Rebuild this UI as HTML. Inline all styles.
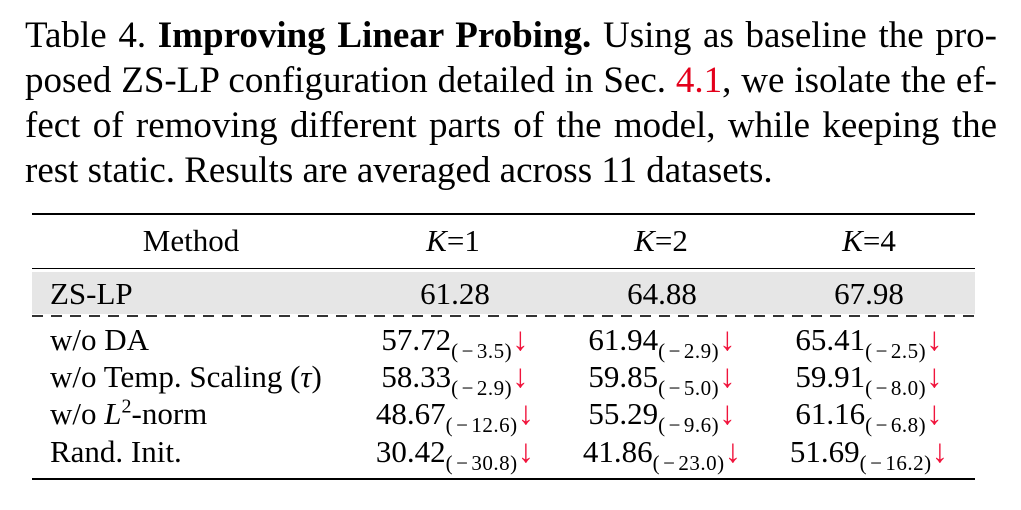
<!DOCTYPE html>
<html><head><meta charset="utf-8"><style>
body{margin:0;width:1021px;height:510px;background:#fff;position:relative;overflow:hidden;font-family:"Liberation Serif",serif;color:#000}
.cap{position:absolute;left:25px;width:972px;font-size:37px;line-height:36px;white-space:nowrap}
.j{text-align:justify;text-align-last:justify;white-space:normal}
.rule{position:absolute;left:32px;width:943px;background:#000}
.cell{position:absolute;font-size:31px;line-height:32px;white-space:nowrap}
.c{transform:translateX(-50%)}
sub{font-size:21px;vertical-align:-8px;line-height:0;letter-spacing:0.5px}
sub .m{margin:0 3px}
.ar{color:#f0143c;font-size:33px}
i{font-style:italic}
</style></head><body>
<div class="cap j" style="top:18px">Table 4. <b>Improving Linear Probing.</b> Using as baseline the pro-</div>
<div class="cap j" style="top:63px">posed ZS-LP configuration detailed in Sec. <span style="color:#e3001b">4.1</span>, we isolate the ef-</div>
<div class="cap j" style="top:108px">fect of removing different parts of the model, while keeping the</div>
<div class="cap" style="top:153px">rest static. Results are averaged across 11 datasets.</div>

<div class="rule" style="top:213px;height:2px"></div>
<div class="rule" style="top:268px;height:1px"></div>
<div class="rule" style="top:272px;height:42px;background:#e6e6e6"></div>
<div class="rule" style="top:315px;height:1.5px;background:repeating-linear-gradient(90deg,#333 0 11px,transparent 11px 19px)"></div>
<div class="rule" style="top:478px;height:2px"></div>

<div class="cell c" style="left:191px;top:225px">Method</div>
<div class="cell c" style="left:453px;top:225px"><i>K</i>=1</div>
<div class="cell c" style="left:661px;top:225px"><i>K</i>=2</div>
<div class="cell c" style="left:869px;top:225px"><i>K</i>=4</div>

<div class="cell" style="left:50px;top:278px">ZS-LP</div>
<div class="cell c" style="left:455px;top:278px">61.28</div>
<div class="cell c" style="left:662px;top:278px">64.88</div>
<div class="cell c" style="left:869px;top:278px">67.98</div>

<div class="cell" style="left:50px;top:324px">w/o DA</div>
<div class="cell c" style="left:455px;top:324px">57.72<sub>(<span class="m">−</span>3.5)</sub><span class="ar">↓</span></div>
<div class="cell c" style="left:662px;top:324px">61.94<sub>(<span class="m">−</span>2.9)</sub><span class="ar">↓</span></div>
<div class="cell c" style="left:869px;top:324px">65.41<sub>(<span class="m">−</span>2.5)</sub><span class="ar">↓</span></div>

<div class="cell" style="left:50px;top:361px">w/o Temp. Scaling (<i>τ</i>)</div>
<div class="cell c" style="left:455px;top:361px">58.33<sub>(<span class="m">−</span>2.9)</sub><span class="ar">↓</span></div>
<div class="cell c" style="left:662px;top:361px">59.85<sub>(<span class="m">−</span>5.0)</sub><span class="ar">↓</span></div>
<div class="cell c" style="left:869px;top:361px">59.91<sub>(<span class="m">−</span>8.0)</sub><span class="ar">↓</span></div>

<div class="cell" style="left:50px;top:398px">w/o <i>L</i><sup style="font-size:20px;line-height:0">2</sup>-norm</div>
<div class="cell c" style="left:455px;top:398px">48.67<sub>(<span class="m">−</span>12.6)</sub><span class="ar">↓</span></div>
<div class="cell c" style="left:662px;top:398px">55.29<sub>(<span class="m">−</span>9.6)</sub><span class="ar">↓</span></div>
<div class="cell c" style="left:869px;top:398px">61.16<sub>(<span class="m">−</span>6.8)</sub><span class="ar">↓</span></div>

<div class="cell" style="left:50px;top:436px">Rand. Init.</div>
<div class="cell c" style="left:455px;top:436px">30.42<sub>(<span class="m">−</span>30.8)</sub><span class="ar">↓</span></div>
<div class="cell c" style="left:662px;top:436px">41.86<sub>(<span class="m">−</span>23.0)</sub><span class="ar">↓</span></div>
<div class="cell c" style="left:869px;top:436px">51.69<sub>(<span class="m">−</span>16.2)</sub><span class="ar">↓</span></div>
</body></html>
